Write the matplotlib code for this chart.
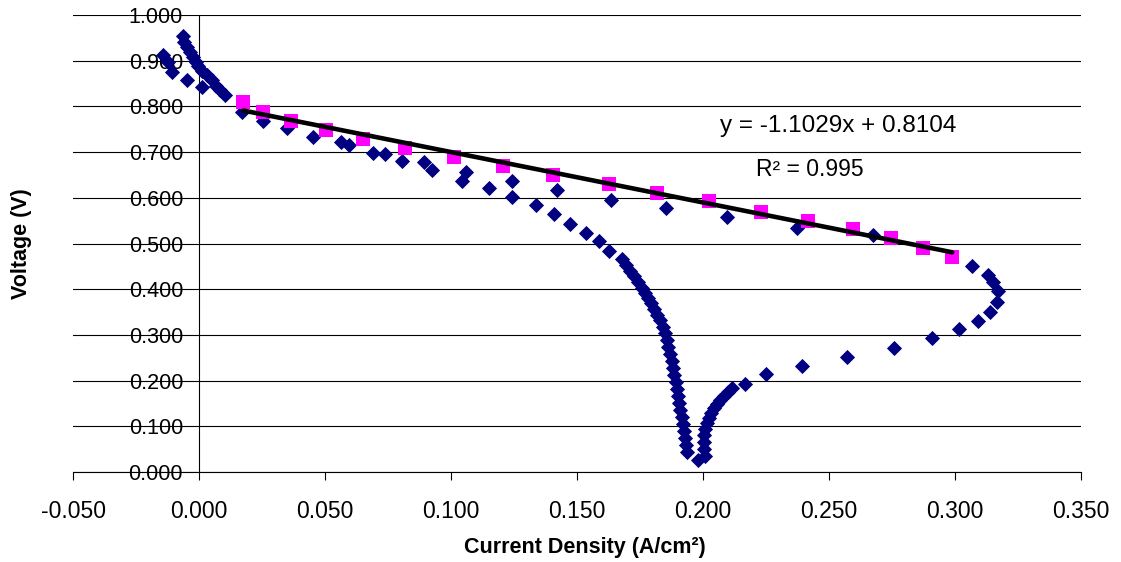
"""Polarization curve: voltage vs current density, with a linear trendline
fitted through the ohmic region (magenta squares)."""

import numpy as np
import matplotlib
matplotlib.use("Agg")
import matplotlib.pyplot as plt

plt.rcParams["font.family"] = ["Liberation Sans", "DejaVu Sans"]

# full scan (navy diamonds)
scan_j = [
    -0.0065, -0.0060, -0.0048, -0.0036, -0.0023, -0.0012, -0.0003, 0.0012,
    0.0031, 0.0050, 0.0067, 0.0083, 0.0103, -0.0142, -0.0123, -0.0108,
    -0.0049, 0.0011,
    0.0169, 0.0255, 0.0348, 0.0454, 0.0562, 0.0595, 0.0689, 0.0738,
    0.0807, 0.0893, 0.0923, 0.1058, 0.1045, 0.1241, 0.1419, 0.1635,
    0.1852, 0.2096, 0.2372, 0.2673,
    0.3069, 0.3132, 0.3152, 0.3172, 0.3165, 0.3139, 0.3092, 0.3017,
    0.2907, 0.2759, 0.2573, 0.2392, 0.2250, 0.2167,
    0.2114, 0.2099, 0.2083, 0.2067, 0.2056, 0.2044, 0.2032, 0.2022,
    0.2014, 0.2008, 0.2004, 0.2002, 0.2004, 0.2008, 0.1981,
    0.1937, 0.1933, 0.1929, 0.1925, 0.1919, 0.1915, 0.1910, 0.1905,
    0.1901, 0.1896, 0.1891, 0.1886, 0.1881, 0.1875, 0.1869, 0.1863,
    0.1857, 0.1849, 0.1841, 0.1829, 0.1817, 0.1806, 0.1794, 0.1782,
    0.1770, 0.1758, 0.1742, 0.1726, 0.1710, 0.1694,
    0.1677, 0.1628, 0.1589, 0.1535, 0.1472, 0.1410, 0.1336, 0.1241,
    0.1152,
]
scan_v = [
    0.953, 0.941, 0.930, 0.919, 0.908, 0.897, 0.888, 0.877,
    0.869, 0.858, 0.845, 0.836, 0.826, 0.912, 0.897, 0.876,
    0.858, 0.843,
    0.788, 0.769, 0.752, 0.734, 0.723, 0.716, 0.699, 0.696,
    0.681, 0.679, 0.661, 0.657, 0.637, 0.637, 0.617, 0.595,
    0.577, 0.557, 0.535, 0.519,
    0.451, 0.431, 0.416, 0.395, 0.373, 0.351, 0.331, 0.312,
    0.293, 0.272, 0.252, 0.233, 0.214, 0.192,
    0.183, 0.175, 0.166, 0.158, 0.149, 0.140, 0.129, 0.118,
    0.107, 0.094, 0.081, 0.066, 0.050, 0.035, 0.026,
    0.044, 0.059, 0.074, 0.090, 0.105, 0.120, 0.136, 0.151,
    0.166, 0.182, 0.197, 0.212, 0.228, 0.243, 0.258, 0.274,
    0.289, 0.304, 0.317, 0.333, 0.344, 0.357, 0.370, 0.381,
    0.392, 0.403, 0.416, 0.429, 0.440, 0.453,
    0.466, 0.484, 0.506, 0.524, 0.543, 0.564, 0.584, 0.602,
    0.621,
]

# points used for the linear fit (magenta squares)
fit_j = [0.0176, 0.0253, 0.0365, 0.0504, 0.0652, 0.0817, 0.1013, 0.1208,
         0.1406, 0.1627, 0.1819, 0.2025, 0.2230, 0.2418, 0.2594, 0.2746,
         0.2874, 0.2989]
fit_v = [0.810, 0.788, 0.769, 0.748, 0.728, 0.710, 0.690, 0.670,
         0.650, 0.630, 0.611, 0.592, 0.570, 0.550, 0.531, 0.511,
         0.491, 0.471]

# trendline as reported on the chart
slope = -1.1029
intercept = 0.8104
r_squared = 0.995

x_ticks = np.arange(-0.05, 0.3501, 0.05)
y_ticks = np.arange(0.0, 1.0001, 0.1)

fig = plt.figure(figsize=(11.21, 5.62), dpi=100)
ax = fig.add_axes([73 / 1121, 1 - 472 / 562, 1008 / 1121, 457 / 562])

ax.plot(scan_j, scan_v, linestyle="none", marker="D", markersize=7.5,
        color="#000080", markeredgewidth=0.6, zorder=3)
ax.plot(fit_j, fit_v, linestyle="none", marker="s", markersize=10.5,
        color="#FF00FF", markeredgewidth=0, zorder=4)

jj = np.array([min(fit_j), max(fit_j)])
ax.plot(jj, slope * jj + intercept, color="black", linewidth=3.3,
        solid_capstyle="round", zorder=5)

ax.text(0.2536, 0.757, f"y = {slope:.4f}x + {intercept:.4f}",
        fontsize=17.5, ha="center", va="center", zorder=6)
ax.text(0.2425, 0.662, f"R² = {r_squared}",
        fontsize=16.5, ha="center", va="center", zorder=6)

ax.set_xlim(-0.05, 0.35)
ax.set_ylim(0, 1.0)
ax.set_xticks(x_ticks)
ax.set_yticks(y_ticks)
ax.set_xticklabels([f"{t:.3f}" for t in x_ticks])
ax.set_yticklabels([f"{t:.3f}" for t in y_ticks])

ax.grid(axis="y", color="black", linewidth=0.8, zorder=0)
ax.set_axisbelow(True)

for side in ("top", "right"):
    ax.spines[side].set_visible(False)
ax.spines["left"].set_position(("data", 0))
ax.spines["left"].set_linewidth(0.8)
ax.spines["bottom"].set_linewidth(0.8)

ax.tick_params(axis="y", length=0, pad=11.5, labelsize=15.5)
ax.tick_params(axis="x", direction="out", length=6, width=0.8, pad=14,
               labelsize=16.5)

ax.set_xlabel("Current Density (A/cm²)", fontsize=15.5, fontweight="bold")
ax.set_ylabel("Voltage (V)", fontsize=15.5, fontweight="bold")
ax.xaxis.set_label_coords((585 - 73) / 1008, (472 - 547) / 457)
ax.yaxis.set_label_coords((22 - 73) / 1008, 0.5)
ax.xaxis.label.set_va("center")
ax.yaxis.label.set_va("center")

fig.savefig("out.png", dpi=100)
